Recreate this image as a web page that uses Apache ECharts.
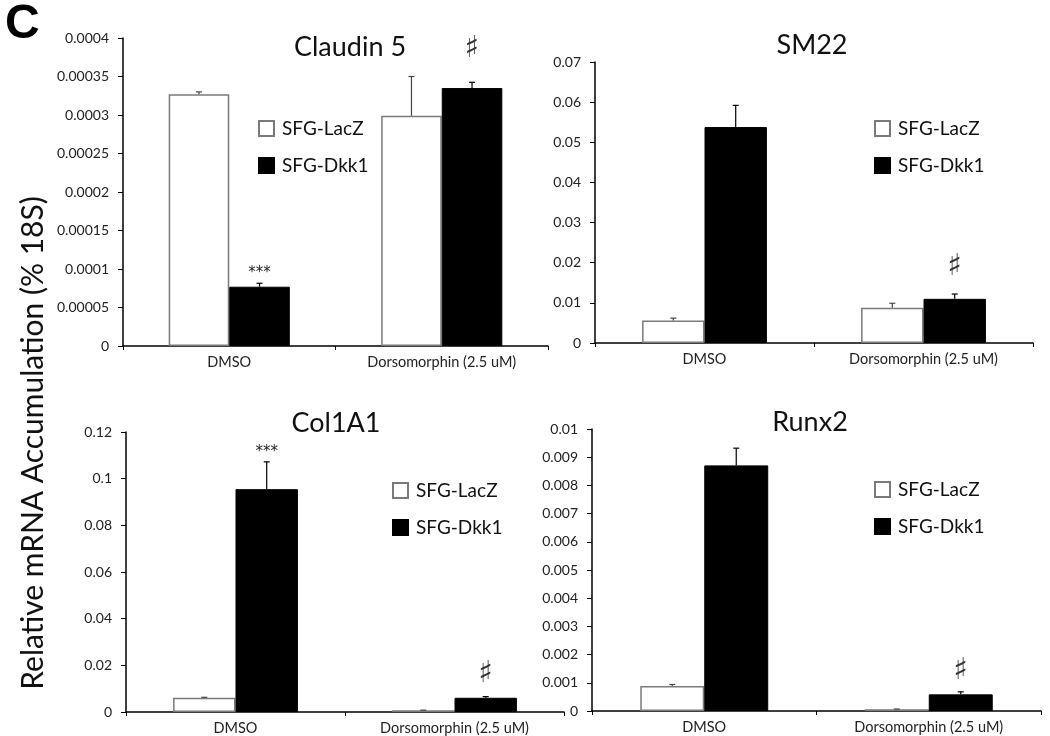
<!DOCTYPE html>
<html>
<head>
<meta charset="utf-8">
<script src="https://cdn.jsdelivr.net/npm/echarts@6/dist/echarts.min.js"></script>
<style>
html,body{margin:0;padding:0;background:#fff;}
#chart{width:1050px;height:736px;}
</style>
</head>
<body>
<div id="chart"></div>
<script>
// ---------- DATA ----------
const categories = ['DMSO', 'Dorsomorphin (2.5 uM)'];
const seriesNames = ['SFG-LacZ', 'SFG-Dkk1'];
const panelTitles = ['Claudin 5', 'SM22', 'Col1A1', 'Runx2'];

const claudin5LacZ = [0.000327, 0.000299];
const claudin5LacZErr = [0.000003, 0.000051];
const claudin5Dkk1 = [0.0000770, 0.000335];
const claudin5Dkk1Err = [0.0000045, 0.0000075];
const claudin5Marks = ['***', '\u266F'];

const sm22LacZ = [0.0056, 0.0088];
const sm22LacZErr = [0.0006, 0.0011];
const sm22Dkk1 = [0.0538, 0.0110];
const sm22Dkk1Err = [0.0054, 0.0012];
const sm22Marks = ['', '\u266F'];

const col1a1LacZ = [0.0061, 0.0007];
const col1a1LacZErr = [0.0002, 0.0001];
const col1a1Dkk1 = [0.0955, 0.0061];
const col1a1Dkk1Err = [0.0117, 0.0005];
const col1a1Marks = ['***', '\u266F'];

const runx2LacZ = [0.00089, 0.00006];
const runx2LacZErr = [0.00005, 0.00001];
const runx2Dkk1 = [0.00871, 0.00059];
const runx2Dkk1Err = [0.00061, 0.00009];
const runx2Marks = ['', '\u266F'];

const yMax = [0.0004, 0.07, 0.12, 0.01];
const yStep = [0.00005, 0.01, 0.02, 0.001];

// ---------- LAYOUT ----------
const grids = [
  {left: 123, right: 502, top: 38, bottom: 390},
  {left: 595, right: 17, top: 62, bottom: 393},
  {left: 126, right: 486, top: 432, bottom: 23},
  {left: 592, right: 9, top: 429, bottom: 25}
];
const titlePos = [[345, 29], [807, 27], [331, 405], [805, 404]];
const legendPos = [[258, 119], [874, 119], [392, 481], [874, 480]];
const markOffsets = [[13, 33], [13, 27], [13, 22], [13, 21]];
const BAR_FRAC = 0.285;
const FONT = 'Lato, "Open Sans", sans-serif';

const panels = [
  [claudin5LacZ, claudin5LacZErr, claudin5Dkk1, claudin5Dkk1Err, claudin5Marks],
  [sm22LacZ, sm22LacZErr, sm22Dkk1, sm22Dkk1Err, sm22Marks],
  [col1a1LacZ, col1a1LacZErr, col1a1Dkk1, col1a1Dkk1Err, col1a1Marks],
  [runx2LacZ, runx2LacZErr, runx2Dkk1, runx2Dkk1Err, runx2Marks]
];

const option = {
  backgroundColor: '#fff',
  animation: false,
  title: [{text: 'C', left: 0, top: -4, textStyle: {fontFamily: '"Liberation Sans", Arial, sans-serif', fontWeight: 'bold', fontSize: 48, color: '#000'}}]
    .concat(panelTitles.map((t, i) => ({
      text: t, left: titlePos[i][0], top: titlePos[i][1], textAlign: 'center',
      textStyle: {fontFamily: FONT, fontWeight: 'normal', fontSize: 27, color: '#111'}
    }))),
  legend: legendPos.map((p, i) => ({
    data: seriesNames, left: p[0], top: p[1], orient: 'vertical', padding: 0,
    itemWidth: 15, itemHeight: 15, itemGap: 18, icon: 'rect', selectedMode: false,
    textStyle: {fontFamily: FONT, fontSize: 19, color: '#111', padding: [0, 0, 0, 3]}
  })),
  grid: grids.map(g => Object.assign({containLabel: false}, g)),
  xAxis: grids.map((g, i) => ({
    type: 'category', gridIndex: i, data: categories,
    axisLine: {lineStyle: {color: '#000', width: 1.5}},
    axisTick: {show: true, length: 4, lineStyle: {color: '#000'}},
    axisLabel: {fontFamily: FONT, fontSize: 14.5, color: '#222', margin: 9, interval: 0}
  })),
  yAxis: grids.map((g, i) => ({
    type: 'value', gridIndex: i, min: 0, max: yMax[i], interval: yStep[i],
    splitLine: {show: false},
    axisLine: {show: true, lineStyle: {color: '#000', width: 1.5}},
    axisTick: {show: true, length: 5, lineStyle: {color: '#000'}},
    axisLabel: {fontFamily: FONT, fontSize: 14, color: '#222', margin: 14,
      formatter: v => String(+v.toFixed(6))}
  })),
  graphic: [{
    type: 'text', x: 33, y: 443, rotation: Math.PI / 2,
    style: {text: 'Relative mRNA Accumulation (% 18S)', fontFamily: FONT, fontSize: 30,
      fill: '#111', textAlign: 'center', textVerticalAlign: 'middle'}
  }],
  series: []
};

panels.forEach((p, i) => {
  const [lac, lacErr, dkk, dkkErr, marks] = p;
  option.series.push({
    name: seriesNames[0], type: 'bar', xAxisIndex: i, yAxisIndex: i, data: lac,
    barWidth: (BAR_FRAC * 100) + '%', barGap: '0%',
    itemStyle: {color: '#fff', borderColor: '#7a7a7a', borderWidth: 1.5}
  });
  option.series.push({
    name: seriesNames[1], type: 'bar', xAxisIndex: i, yAxisIndex: i, data: dkk,
    barWidth: (BAR_FRAC * 100) + '%', barGap: '0%',
    itemStyle: {color: '#000', borderColor: '#000', borderWidth: 1}
  });
  const errData = [];
  categories.forEach((c, ci) => {
    errData.push([ci, lac[ci], lacErr[ci], 0]);
    errData.push([ci, dkk[ci], dkkErr[ci], 1]);
  });
  option.series.push({
    type: 'custom', xAxisIndex: i, yAxisIndex: i, data: errData, z: 5, silent: true,
    renderItem: (params, api) => {
      const ci = api.value(0), v = api.value(1), e = api.value(2), s = api.value(3);
      const bw = api.size([1, 0])[0] * BAR_FRAC;
      const base = api.coord([ci, v]);
      const top = api.coord([ci, v + e]);
      const x = base[0] + (s === 0 ? -bw / 2 : bw / 2);
      const col = s === 0 ? '#444' : '#000';
      return {type: 'group', children: [
        {type: 'line', shape: {x1: x, y1: base[1], x2: x, y2: top[1]}, style: {stroke: col, lineWidth: 1.2}},
        {type: 'line', shape: {x1: x - 3, y1: top[1], x2: x + 3, y2: top[1]}, style: {stroke: col, lineWidth: 1.2}}
      ]};
    }
  });
  const markData = [];
  categories.forEach((c, ci) => {
    if (marks[ci]) markData.push([ci, dkk[ci] + dkkErr[ci], ci, marks[ci]]);
  });
  option.series.push({
    type: 'custom', xAxisIndex: i, yAxisIndex: i, data: markData, z: 6, silent: true,
    renderItem: (params, api) => {
      const ci = api.value(0), t = api.value(1);
      const txt = markData[params.dataIndex][3];
      const bw = api.size([1, 0])[0] * BAR_FRAC;
      const pt = api.coord([ci, t]);
      const star = txt === '***';
      return {type: 'text', x: pt[0] + bw / 2, y: pt[1] - markOffsets[i][ci] + (star ? 3 : 0),
        style: {text: txt, fill: star ? '#222' : '#333', textAlign: 'center', textVerticalAlign: 'middle',
          fontFamily: star ? '"DejaVu Sans", sans-serif' : '"DejaVu Sans", sans-serif', fontSize: star ? 15 : 30}};
    }
  });
});

const chart = echarts.init(document.getElementById('chart'), null, {renderer: 'canvas'});
chart.setOption(option);
</script>
</body>
</html>
